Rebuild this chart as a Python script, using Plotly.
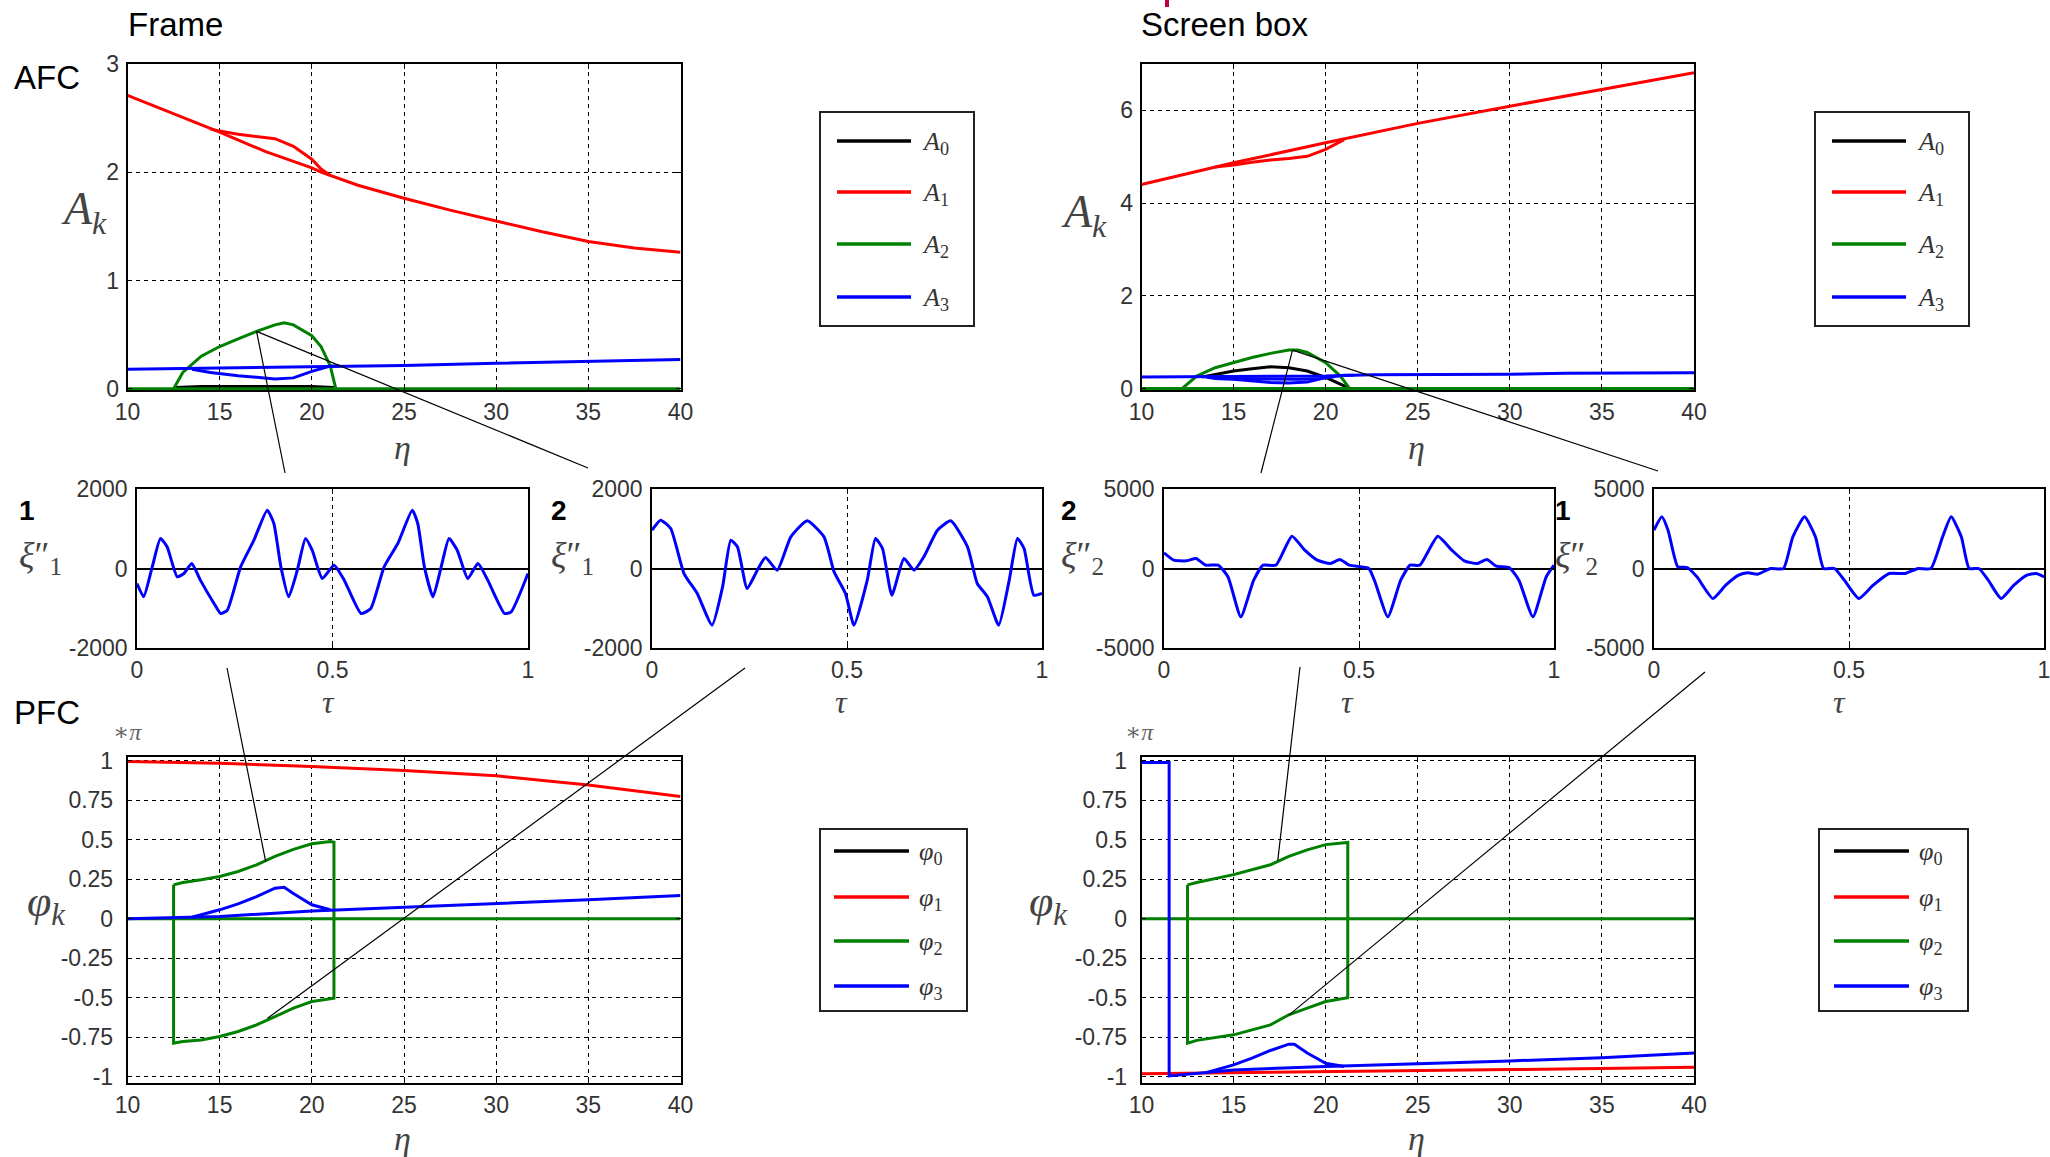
import plotly.graph_objects as go

W, H = 2050, 1157

# ---------------- data ----------------
eta_ticks = [10, 15, 20, 25, 30, 35, 40]
afc_f_yticks = [0, 1, 2, 3]
afc_s_yticks = [0, 2, 4, 6]
pfc_yticks = [-1, -0.75, -0.5, -0.25, 0, 0.25, 0.5, 0.75, 1]
pfc_yticktext = ["-1", "-0.75", "-0.5", "-0.25", "0", "0.25", "0.5", "0.75", "1"]
tau_ticks = [0, 0.5, 1]
tau_ticktext = ["0", "0.5", "1"]
xi1_ticks = [-2000, 0, 2000]
xi2_ticks = [-5000, 0, 5000]

series_colors = ["#000000", "#ff0000", "#008000", "#0000ff"]
A_names = ["A0", "A1", "A2", "A3"]
phi_names = ["φ0", "φ1", "φ2", "φ3"]

# AFC - Frame
f_A0_eta = [12.6, 14, 16, 18, 20, 21.2]
f_A0 = [0.01, 0.02, 0.02, 0.02, 0.02, 0.01]
f_A1_eta = [10, 12.5, 15, 17.5, 20, 20.5, 22.5, 25, 27.5, 30, 32.5, 35, 37.5, 40]
f_A1 = [2.71, 2.54, 2.37, 2.19, 2.04, 2.00, 1.88, 1.76, 1.65, 1.55, 1.45, 1.36, 1.30, 1.26]
f_A1_loop_eta = [14.5, 15, 16, 17, 18, 19, 20, 20.5, 21]
f_A1_loop = [2.40, 2.38, 2.35, 2.33, 2.31, 2.24, 2.12, 2.03, 1.97]
f_A2_eta = [10, 40]
f_A2 = [0, 0]
f_A2_hump_eta = [12.5, 13, 14, 15, 16, 17, 18, 18.5, 19, 20, 20.5, 21, 21.3]
f_A2_hump = [0, 0.15, 0.30, 0.39, 0.46, 0.53, 0.59, 0.61, 0.59, 0.49, 0.39, 0.21, 0]
f_A3_eta = [10, 15, 20, 25, 30, 35, 40]
f_A3 = [0.18, 0.19, 0.20, 0.215, 0.235, 0.255, 0.27]
f_A3_loop_eta = [13.5, 14.5, 16, 18, 19, 20, 21, 21.5]
f_A3_loop = [0.18, 0.15, 0.12, 0.09, 0.10, 0.16, 0.21, 0.21]

# AFC - Screen box
s_A0_eta = [13.3, 14, 15, 16, 17, 18, 19, 20, 21, 21.2]
s_A0 = [0.25, 0.30, 0.38, 0.43, 0.47, 0.45, 0.38, 0.24, 0.06, 0.0]
s_A1_eta = [10, 15, 20, 25, 30, 35, 40]
s_A1 = [4.40, 4.87, 5.30, 5.72, 6.09, 6.45, 6.81]
s_A1_loop_eta = [14, 15, 16, 17, 18, 19, 20, 21]
s_A1_loop = [4.78, 4.82, 4.88, 4.93, 4.96, 5.01, 5.16, 5.37]
s_A2_eta = [10, 40]
s_A2 = [0, 0]
s_A2_hump_eta = [12.2, 13, 14, 15, 16, 17, 18, 18.5, 19, 20, 20.8, 21.3]
s_A2_hump = [0, 0.27, 0.45, 0.56, 0.67, 0.76, 0.83, 0.83, 0.78, 0.56, 0.27, 0]
s_A3_eta = [10, 15, 20, 22.5, 25, 30, 33, 35, 40]
s_A3 = [0.25, 0.26, 0.27, 0.30, 0.30, 0.31, 0.33, 0.33, 0.34]
s_A3_loop_eta = [13.5, 14, 15, 17, 18, 19, 20, 21, 21.5]
s_A3_loop = [0.25, 0.22, 0.20, 0.13, 0.12, 0.14, 0.24, 0.29, 0.29]
s_A3_inner_eta = [14, 15.5, 17, 18.5, 19.5, 20.5]
s_A3_inner = [0.22, 0.21, 0.20, 0.20, 0.21, 0.26]

# PFC - Frame
f_p1_eta = [10, 15, 20, 25, 30, 35, 40]
f_p1 = [0.996, 0.986, 0.965, 0.94, 0.906, 0.848, 0.775]
f_p2_eta = [10, 40]
f_p2 = [0, 0]
f_p2_loop_eta = [12.5, 13, 14, 15, 16, 17, 18, 19, 20, 21, 21.2, 21.2, 20, 19, 18, 17, 16, 15, 14, 13, 12.5, 12.5]
f_p2_loop = [0.215, 0.23, 0.247, 0.268, 0.30, 0.342, 0.395, 0.44, 0.475, 0.49, 0.485,
             -0.503, -0.524, -0.566, -0.619, -0.672, -0.714, -0.745, -0.767, -0.777, -0.788, 0.215]
f_p3_eta = [10, 15, 20, 25, 30, 35, 40]
f_p3 = [0.0, 0.015, 0.05, 0.074, 0.095, 0.12, 0.148]
f_p3_hump_eta = [13.5, 15, 16, 17, 18, 18.5, 19, 20, 21]
f_p3_hump = [0.01, 0.057, 0.095, 0.14, 0.194, 0.2, 0.16, 0.089, 0.057]

# PFC - Screen box
s_p1_eta = [10, 20, 25, 30, 40]
s_p1 = [-0.981, -0.97, -0.96, -0.955, -0.941]
s_p2_eta = [10, 40]
s_p2 = [0, 0]
s_p2_loop_eta = [12.5, 13, 15, 17, 18, 19, 20, 21.2, 21.2, 20, 19, 18, 17, 15, 13, 12.5, 12.5]
s_p2_loop = [0.215, 0.23, 0.28, 0.342, 0.395, 0.437, 0.47, 0.484,
             -0.5, -0.524, -0.566, -0.608, -0.672, -0.735, -0.77, -0.788, 0.215]
s_p3_eta = [10, 11.3, 11.5, 11.5, 12, 15, 20, 25, 30, 35, 40]
s_p3 = [0.99, 0.99, 0.99, -0.995, -0.99, -0.957, -0.936, -0.92, -0.90, -0.88, -0.85]
s_p3_hump_eta = [13.5, 15, 16, 17, 18, 18.3, 19, 20, 21]
s_p3_hump = [-0.975, -0.925, -0.883, -0.834, -0.794, -0.794, -0.85, -0.915, -0.936]

# time histories
t1 = [0, 0.017, 0.039, 0.06, 0.077, 0.103, 0.12, 0.14, 0.162, 0.197, 0.214, 0.231, 0.265, 0.299, 0.333,
      0.35, 0.368, 0.388, 0.41, 0.431, 0.448, 0.474, 0.504, 0.53, 0.573, 0.598, 0.632, 0.667, 0.704, 0.718,
      0.735, 0.757, 0.778, 0.798, 0.819, 0.846, 0.872, 0.897, 0.94, 0.957, 1.0]
xi1_p1 = [-377, -712, 42, 754, 545, -210, -126, 126, -293, -880, -1132, -1048, 42, 712, 1467,
          1132, 42, -712, -42, 754, 461, -251, 84, -293, -1132, -1006, 42, 629, 1467, 1132,
          42, -712, 42, 754, 461, -251, 126, -293, -1132, -1090, -126]
t2 = [0, 0.022, 0.048, 0.082, 0.116, 0.154, 0.181, 0.202, 0.219, 0.244, 0.27, 0.291, 0.321, 0.356, 0.398,
      0.441, 0.467, 0.496, 0.518, 0.552, 0.573, 0.591, 0.615, 0.646, 0.672, 0.697, 0.732, 0.766, 0.809, 0.834,
      0.86, 0.889, 0.916, 0.937, 0.954, 0.979, 1.0]
xi1_p2 = [964, 1216, 1006, -126, -629, -1425, -461, 712, 545, -503, -42, 277, -42, 796, 1199,
          796, -84, -629, -1425, -293, 754, 503, -670, 251, -42, 293, 964, 1199, 545, -377,
          -712, -1425, -293, 754, 503, -670, -629]
t3 = [0, 0.025, 0.057, 0.082, 0.107, 0.139, 0.164, 0.197, 0.23, 0.254, 0.287, 0.328, 0.361, 0.393, 0.426,
      0.451, 0.475, 0.525, 0.541, 0.574, 0.607, 0.631, 0.656, 0.702, 0.738, 0.77, 0.803, 0.828, 0.852, 0.885,
      0.91, 0.946, 0.98, 1.0]
xi2_p2 = [985, 524, 482, 629, 210, 210, -524, -3040, -734, 210, 210, 2034, 1153, 524, 314,
          566, 210, 0, -839, -3040, -734, 210, 210, 2034, 1153, 482, 314, 566, 147, 63,
          -734, -3040, -524, 210]
t4 = [0, 0.02, 0.036, 0.061, 0.085, 0.11, 0.151, 0.184, 0.217, 0.241, 0.266, 0.299, 0.332, 0.356, 0.386,
      0.414, 0.435, 0.463, 0.488, 0.525, 0.562, 0.603, 0.644, 0.677, 0.71, 0.74, 0.762, 0.788, 0.808, 0.833,
      0.857, 0.89, 0.923, 0.956, 0.98, 1.0]
xi2_p1 = [2411, 3250, 2411, 105, 63, -524, -1887, -1048, -419, -273, -356, 0, 0, 1992, 3250,
          1992, 0, 0, -734, -1887, -1048, -314, -314, 0, 0, 1992, 3250, 1992, 0, 0,
          -734, -1887, -1048, -419, -314, -524]

# ---------------- geometry helpers ----------------
def fx(px):
    return px / W


def fy(py):
    return 1 - py / H


# axis boxes in pixels: (left, right, top, bottom)
boxes = {
    "1": (127.5, 680.5, 64, 390),
    "2": (1141.5, 1694, 64, 390),
    "3": (137, 528, 489, 648),
    "4": (652, 1042, 489, 648),
    "5": (1164, 1554, 489, 648),
    "6": (1654, 2044, 489, 648),
    "7": (127.5, 680.5, 757, 1083),
    "8": (1141.5, 1694, 757, 1083),
}
ranges = {
    "1": ([10, 40], [-0.012, 3]),
    "2": ([10, 40], [-0.03, 7]),
    "3": ([0, 1], [-2000, 2000]),
    "4": ([0, 1], [-2000, 2000]),
    "5": ([0, 1], [-5000, 5000]),
    "6": ([0, 1], [-5000, 5000]),
    "7": ([10, 40], [-1.04, 1.025]),
    "8": ([10, 40], [-1.04, 1.025]),
}


def d2p(ax, x, y):
    l, r, t, b = boxes[ax]
    (x0, x1), (y0, y1) = ranges[ax]
    px = l + (x - x0) / (x1 - x0) * (r - l)
    py = b - (y - y0) / (y1 - y0) * (b - t)
    return fx(px), fy(py)


TICKFONT = dict(family="Liberation Sans, Arial, sans-serif", size=23, color="#333")


def make_axes(ax, xt, xtt, yt, ytt, ygrid=True, yzero=False, ystand=12):
    l, r, t, b = boxes[ax]
    xr, yr = ranges[ax]
    common = dict(showline=True, linecolor="black", linewidth=1.5, mirror="ticks",
                  ticks="inside", ticklen=5, tickcolor="black", tickwidth=1,
                  gridcolor="black", gridwidth=1, griddash="4px,4px",
                  tickfont=TICKFONT, fixedrange=True, automargin=False,
                  ticklabeloverflow="allow")
    xa = dict(common, domain=[fx(l), fx(r)], range=xr, tickvals=xt, ticktext=xtt,
              showgrid=True, zeroline=False, ticklabelstandoff=1,
              anchor="y" + ("" if ax == "1" else ax))
    ya = dict(common, domain=[fy(b), fy(t)], range=yr, tickvals=yt, ticktext=ytt,
              showgrid=ygrid, zeroline=yzero, zerolinecolor="black", zerolinewidth=1.5,
              ticklabelstandoff=ystand, anchor="x" + ("" if ax == "1" else ax))
    return xa, ya


fig = go.Figure()


def add_series(ax, name, color, parts, width=3, shape="linear"):
    xs, ys = [], []
    for ex, ey in parts:
        if xs:
            xs.append(None)
            ys.append(None)
        xs.extend(ex)
        ys.extend(ey)
    sfx = "" if ax == "1" else ax
    fig.add_trace(go.Scatter(x=xs, y=ys, mode="lines", name=name, showlegend=False,
                             line=dict(color=color, width=width, shape=shape,
                                       smoothing=0.5 if shape == "spline" else None),
                             xaxis="x" + sfx, yaxis="y" + sfx, hoverinfo="skip"))


# AFC Frame
add_series("1", A_names[0], series_colors[0], [(f_A0_eta, f_A0)])
add_series("1", A_names[1], series_colors[1], [(f_A1_eta, f_A1), (f_A1_loop_eta, f_A1_loop)])
add_series("1", A_names[2], series_colors[2], [(f_A2_eta, f_A2), (f_A2_hump_eta, f_A2_hump)])
add_series("1", A_names[3], series_colors[3], [(f_A3_eta, f_A3), (f_A3_loop_eta, f_A3_loop)])
# AFC Screen box
add_series("2", A_names[0], series_colors[0], [(s_A0_eta, s_A0)])
add_series("2", A_names[1], series_colors[1], [(s_A1_eta, s_A1), (s_A1_loop_eta, s_A1_loop)])
add_series("2", A_names[2], series_colors[2], [(s_A2_eta, s_A2), (s_A2_hump_eta, s_A2_hump)])
add_series("2", A_names[3], series_colors[3], [(s_A3_eta, s_A3), (s_A3_loop_eta, s_A3_loop),
                                               (s_A3_inner_eta, s_A3_inner)])
# time histories
add_series("3", "ξ1''", "#0000ff", [(t1, xi1_p1)], width=3, shape="spline")
add_series("4", "ξ1''", "#0000ff", [(t2, xi1_p2)], width=3, shape="spline")
add_series("5", "ξ2''", "#0000ff", [(t3, xi2_p2)], width=3, shape="spline")
add_series("6", "ξ2''", "#0000ff", [(t4, xi2_p1)], width=3, shape="spline")
# PFC Frame
add_series("7", phi_names[1], series_colors[1], [(f_p1_eta, f_p1)])
add_series("7", phi_names[2], series_colors[2], [(f_p2_eta, f_p2), (f_p2_loop_eta, f_p2_loop)])
add_series("7", phi_names[3], series_colors[3], [(f_p3_eta, f_p3), (f_p3_hump_eta, f_p3_hump)])
# PFC Screen box
add_series("8", phi_names[1], series_colors[1], [(s_p1_eta, s_p1)])
add_series("8", phi_names[2], series_colors[2], [(s_p2_eta, s_p2), (s_p2_loop_eta, s_p2_loop)])
add_series("8", phi_names[3], series_colors[3], [(s_p3_eta, s_p3), (s_p3_hump_eta, s_p3_hump)])

layout = dict(width=W, height=H, margin=dict(l=0, r=0, t=0, b=0, pad=0, autoexpand=False),
              paper_bgcolor="white", plot_bgcolor="white", showlegend=False)

axcfg = {
    "1": (eta_ticks, [str(v) for v in eta_ticks], afc_f_yticks, [str(v) for v in afc_f_yticks], True, False, 2),
    "2": (eta_ticks, [str(v) for v in eta_ticks], afc_s_yticks, [str(v) for v in afc_s_yticks], True, False, 2),
    "3": (tau_ticks, tau_ticktext, xi1_ticks, [str(v) for v in xi1_ticks], False, True, 3),
    "4": (tau_ticks, tau_ticktext, xi1_ticks, [str(v) for v in xi1_ticks], False, True, 3),
    "5": (tau_ticks, tau_ticktext, xi2_ticks, [str(v) for v in xi2_ticks], False, True, 3),
    "6": (tau_ticks, tau_ticktext, xi2_ticks, [str(v) for v in xi2_ticks], False, True, 3),
    "7": (eta_ticks, [str(v) for v in eta_ticks], pfc_yticks, pfc_yticktext, True, False, 8),
    "8": (eta_ticks, [str(v) for v in eta_ticks], pfc_yticks, pfc_yticktext, True, False, 8),
}
for ax, (xt, xtt, yt, ytt, yg, yz, ys) in axcfg.items():
    xa, ya = make_axes(ax, xt, xtt, yt, ytt, ygrid=yg, yzero=yz, ystand=ys)
    sfx = "" if ax == "1" else ax
    layout["xaxis" + sfx] = xa
    layout["yaxis" + sfx] = ya

fig.update_layout(**layout)

# ---------------- annotations ----------------
SANS = "Liberation Sans, Arial, sans-serif"
SERIF = "Liberation Serif, DejaVu Serif, serif"
ann = []


def text(px, py, s, size, family=SANS, color="black", xanchor="center", yanchor="middle"):
    ann.append(dict(x=fx(px), y=fy(py), xref="paper", yref="paper", text=s, showarrow=False,
                    font=dict(family=family, size=size, color=color), xanchor=xanchor, yanchor=yanchor))


text(126, 24, "Frame", 33, xanchor="left")
text(1139, 24, "Screen box", 33, xanchor="left")
text(12, 78, "AFC", 33, xanchor="left")
text(12, 712, "PFC", 33, xanchor="left")

GRAY = "#444"
text(84, 212, "<i>A</i><sub><i>k</i></sub>", 46, SERIF, GRAY)
text(1084, 215, "<i>A</i><sub><i>k</i></sub>", 46, SERIF, GRAY)
text(402, 447, "<i>η</i>", 34, SERIF, GRAY)
text(1416, 447, "<i>η</i>", 34, SERIF, GRAY)
text(402, 1138, "<i>η</i>", 34, SERIF, GRAY)
text(1416, 1138, "<i>η</i>", 34, SERIF, GRAY)
for px in (328, 841, 1347, 1839):
    text(px, 702, "<i>τ</i>", 32, SERIF, GRAY)
for px, lab in ((27, "1"), (559, "2"), (1069, "2"), (1563, "1")):
    text(px, 510, "<b>" + lab + "</b>", 28)
for px, sub in ((64, "1"), (596, "1"), (1106, "2"), (1600, "2")):
    text(px, 557, "<i>ξ</i>″<sub>" + sub + "</sub>", 36, SERIF, GRAY, xanchor="right")
text(127, 732, "<i>∗π</i>", 24, SERIF, "#666")
text(1139, 732, "<i>∗π</i>", 24, SERIF, "#666")
text(46, 904, "<i>φ</i><sub><i>k</i></sub>", 44, SERIF, GRAY)
text(1048, 904, "<i>φ</i><sub><i>k</i></sub>", 44, SERIF, GRAY)

shapes = []

# ---------------- legends (drawn boxes) ----------------
def legend(box, ys, x0, x1, xt, labels):
    l, r, t, b = box
    shapes.append(dict(type="rect", xref="paper", yref="paper", x0=fx(l), x1=fx(r), y0=fy(b), y1=fy(t),
                       line=dict(color="#222", width=2), fillcolor="white", layer="above"))
    for yy, col, lab in zip(ys, series_colors, labels):
        shapes.append(dict(type="line", xref="paper", yref="paper", x0=fx(x0), x1=fx(x1), y0=fy(yy), y1=fy(yy),
                           line=dict(color=col, width=3.5), layer="above"))
        text(xt, yy + 2, lab, 26, SERIF, "#333", xanchor="left")


A_lab = ["<i>A</i><sub>%d</sub>" % i for i in range(4)]
P_lab = ["<i>φ</i><sub>%d</sub>" % i for i in range(4)]
legend((820, 974, 112, 326), [141, 192, 244, 297], 837, 911, 920, A_lab)
legend((1815, 1969, 112, 326), [141, 192, 244, 297], 1832, 1906, 1915, A_lab)
legend((820, 967, 829, 1011), [851, 897, 941, 986], 834, 909, 917, P_lab)
legend((1819, 1968, 829, 1011), [851, 897, 941, 986], 1834, 1909, 1917, P_lab)

# ---------------- connector lines ----------------
def conn(a, b):
    shapes.append(dict(type="line", xref="paper", yref="paper", x0=a[0], y0=a[1], x1=b[0], y1=b[1],
                       line=dict(color="black", width=1.2), layer="above"))


P = lambda px, py: (fx(px), fy(py))
conn(d2p("1", 17, 0.53), P(285, 473))
conn(d2p("1", 17, 0.53), P(588, 468))
conn(P(227, 668), d2p("7", 17.5, 0.36))
conn(P(745, 668), d2p("7", 17.6, -0.63))
conn(d2p("2", 18.2, 0.83), P(1261, 473))
conn(d2p("2", 18.2, 0.83), P(1658, 471))
conn(P(1300, 667), d2p("8", 17.4, 0.37))
conn(P(1705, 672), d2p("8", 18.0, -0.61))

# small red mark at the top
shapes.append(dict(type="line", xref="paper", yref="paper", x0=fx(1167), x1=fx(1167), y0=fy(7), y1=fy(0),
                   line=dict(color="#c0003c", width=4)))

fig.update_layout(annotations=ann, shapes=shapes)
fig.write_html("out.html")
